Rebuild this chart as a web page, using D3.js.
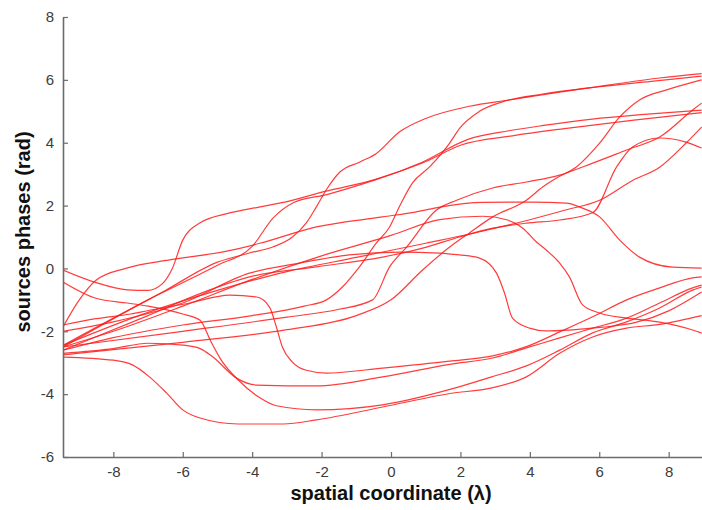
<!DOCTYPE html>
<html>
<head>
<meta charset="utf-8">
<script src="https://cdn.jsdelivr.net/npm/d3@7"></script>
<style>
  body { margin: 0; background: #fff; }
  svg { display: block; font-family: Arial, "Liberation Sans", sans-serif; }
</style>
</head>
<body>
<svg id="chart" width="702" height="510"></svg>
<script>
// phase of each source along the spatial coordinate, [x, phase]
let src01 = [[-9.45,-0.05],[-8.5,-0.45],[-7.6,-0.68],[-7.0,-0.7],[-6.6,-0.5],[-6.3,0.0],[-6.0,0.9],[-5.5,1.45],[-4.7,1.75],[-3.8,1.95],[-3.1,2.1],[-1.9,2.45],[-0.4,2.85],[0.9,3.38],[2.2,4.1],[3.4,4.38],[4.4,4.55],[5.8,4.75],[7.3,4.9],[8.95,5.04]]
let src02 = [[-9.45,-0.43],[-8.5,-0.95],[-7.6,-1.1],[-7,-1.2],[-6,-1.45],[-5.5,-1.65],[-5.2,-2.3],[-4.9,-2.9],[-4.4,-3.55],[-3.8,-4.1],[-3.3,-4.37],[-2.15,-4.5],[-0.24,-4.34],[1.7,-3.85],[2.9,-3.45],[3.9,-3.1],[4.86,-2.6],[5.81,-2.05],[6.79,-1.7],[7.74,-1.26],[8.69,-0.69],[8.95,-0.59]]
let src03 = [[-9.45,-2.82],[-8,-2.92],[-7.45,-3.07],[-6.96,-3.45],[-6.47,-3.96],[-6,-4.5],[-5.5,-4.76],[-4.4,-4.95],[-3.1,-4.95],[-2.15,-4.82],[-0.24,-4.41],[1.7,-3.98],[2.9,-3.8],[3.9,-3.45],[4.86,-2.7],[5.81,-2.18],[6.79,-1.9],[7.74,-1.78],[8.95,-1.5]]
let src04 = [[-9.45,-2.7],[-8,-2.55],[-7,-2.38],[-6,-2.44],[-5.5,-2.55],[-5.13,-2.82],[-4.45,-3.49],[-3.87,-3.71],[-2.15,-3.74],[-0.24,-3.45],[1.69,-3.05],[2.93,-2.85],[3.9,-2.53],[4.86,-2.21],[5.81,-1.9],[6.79,-1.58],[7.74,-1.1],[8.69,-0.62],[8.95,-0.53]]
let src05 = [[-9.45,-1.8],[-8.5,-1.6],[-7.5,-1.45],[-6.96,-1.33],[-5.8,-1.1],[-4.65,-0.85],[-3.87,-0.91],[-3.5,-1.23],[-3.3,-1.87],[-3.13,-2.5],[-2.84,-2.98],[-2.44,-3.24],[-1.86,-3.33],[-0.24,-3.17],[1.69,-2.95],[2.93,-2.78],[3.9,-2.49],[4.86,-2.02],[5.81,-1.54],[6.79,-1.0],[7.74,-0.62],[8.69,-0.3],[8.95,-0.27]]
let src06 = [[-9.45,-2.0],[-8,-1.7],[-6,-1.1],[-4.08,-0.15],[-2.64,0.17],[-1.2,0.43],[0.24,0.52],[1.4,0.49],[1.97,0.43],[2.55,0.33],[3.04,-0.15],[3.27,-0.78],[3.5,-1.58],[3.99,-1.9],[4.48,-1.99],[5.14,-1.96],[6.1,-1.87],[7.08,-1.71],[8,-1.35],[8.95,-0.75]]
let src07 = [[-9.45,-2.5],[-8,-2.0],[-6,-1.2],[-4,-0.35],[-2,0.4],[0,1.05],[1.4,1.55],[2.64,1.66],[3.33,1.55],[3.8,1.28],[4.19,0.84],[4.48,0.58],[4.86,0.17],[5.14,-0.27],[5.52,-1.16],[6.01,-1.42],[6.79,-1.58],[7.74,-1.71],[8.69,-1.96],[8.95,-2.06]]
let src08 = [[-9.45,-2.5],[-8,-1.6],[-6.5,-0.7],[-5,0.2],[-4.08,0.49],[-3.41,0.68],[-2.84,1.0],[-2.44,1.45],[-2.15,1.96],[-1.83,2.56],[-1.48,3.06],[-0.91,3.38],[-0.42,3.66],[0.24,4.34],[1.02,4.78],[2.26,5.16],[3.41,5.36],[4.86,5.61],[6.3,5.84],[7.74,6.06],[8.95,6.2]]
let src09 = [[-9.45,-2.6],[-8,-2.2],[-6,-1.8],[-4,-1.5],[-2.5,-1.2],[-1.86,-1.0],[-1.4,-0.59],[-0.91,0.05],[-0.42,0.81],[-0.04,1.32],[0.24,1.96],[0.62,2.72],[1.11,3.23],[1.69,3.99],[1.97,4.45],[2.55,5.0],[3.21,5.3],[4.37,5.55],[6,5.78],[7.5,5.95],[8.95,6.12]]
let src10 = [[-9.45,-2.5],[-6,-2.0],[-3,-1.55],[-1.5,-1.3],[-0.53,-1.0],[-0.04,0.05],[0.45,0.68],[1.31,1.86],[1.89,2.17],[2.93,2.56],[3.9,2.75],[4.86,2.97],[5.81,3.35],[6.79,3.77],[7.74,4.18],[8.69,5.04],[8.95,5.26]]
let src11 = [[-9.45,-2.75],[-6,-2.35],[-3,-1.95],[-1,-1.5],[0,-1.0],[0.91,-0.05],[1.69,0.68],[2.26,1.13],[2.93,1.64],[3.9,2.17],[4.37,2.59],[4.76,2.87],[5.34,3.23],[6.01,3.99],[6.59,4.82],[7.16,5.36],[7.94,5.68],[8.95,6.0]]
let src12 = [[-9.45,-2.6],[-7,-1.5],[-5.5,-0.8],[-4.08,-0.27],[-2.15,0.05],[-0.24,0.36],[1.02,0.68],[1.97,1.0],[2.93,1.28],[3.9,1.44],[4.86,1.54],[5.81,1.77],[6.5,3.23],[6.96,3.86],[7.74,4.15],[8.5,4.02],[8.95,3.83]]
let src13 = [[-9.45,-1.86],[-8.98,-1.0],[-8.49,-0.37],[-7.62,0.01],[-6.38,0.27],[-4.73,0.55],[-3.78,0.8],[-2.15,1.32],[-0.24,1.64],[0.73,1.8],[1.4,1.95],[2.64,2.1],[4.08,2.11],[5.06,2.08],[5.44,1.95],[6.01,1.64],[6.59,0.9],[7.16,0.36],[8.11,0.04],[8.95,0.01]]
let src14 = [[-9.45,-2.45],[-7,-1.0],[-5,0.1],[-4.0,0.7],[-3.4,1.6],[-2.8,2.1],[-1.85,2.35],[-0.5,2.8],[1,3.4],[2,3.92],[3.5,4.22],[5,4.45],[7,4.72],[8.95,4.96]]
let src15 = [[-9.45,-2.45],[-7,-1.4],[-5,-0.7],[-3,-0.1],[-1,0.35],[1,0.8],[2.5,1.15],[4,1.55],[5,1.85],[6.01,2.17],[6.96,2.8],[7.74,3.22],[8.5,3.99],[8.95,4.5]]

let sources = [src01, src02, src03, src04, src05, src06, src07, src08, src09, src10, src11, src12, src13, src14, src15]

let xTicks = [-8, -6, -4, -2, 0, 2, 4, 6, 8]
let yTicks = [-6, -4, -2, 0, 2, 4, 6, 8]

let svg = d3.select('#chart')

let x = d3.scaleLinear().domain([-9.45, 9.45]).range([63, 719])
let y = d3.scaleLinear().domain([-6, 8]).range([457, 17])

svg.append('clipPath').attr('id', 'plotclip')
    .append('rect')
    .attr('x', 63).attr('y', 17)
    .attr('width', 656).attr('height', 440)

let line = d3.line()
    .x(d => x(d[0]))
    .y(d => y(d[1]))
    .curve(d3.curveMonotoneX)

svg.append('g')
    .attr('clip-path', 'url(#plotclip)')
    .selectAll('path')
    .data(sources)
    .join('path')
    .attr('d', line)
    .attr('fill', 'none')
    .attr('stroke', '#ff1a1a')
    .attr('stroke-opacity', 0.85)
    .attr('stroke-width', 1.2)

// axes, ticks pointing into the plot, plain hyphen for the minus sign
let plain = d => String(d)

svg.append('g')
    .attr('transform', 'translate(0,457)')
    .call(d3.axisBottom(x).tickValues(xTicks).tickFormat(plain).tickSizeInner(-5).tickSizeOuter(0).tickPadding(9))

svg.append('g')
    .attr('transform', 'translate(63,0)')
    .call(d3.axisLeft(y).tickValues(yTicks).tickFormat(plain).tickSizeInner(-5).tickSizeOuter(0).tickPadding(9))

svg.selectAll('.domain').attr('stroke', '#6b6b6b').attr('stroke-width', 1.6)
svg.selectAll('.tick line').attr('stroke', '#6b6b6b').attr('stroke-width', 1.2)
svg.selectAll('.tick text')
    .attr('fill', '#3c3c3c')
    .style('font-size', '15px')
    .style('font-family', 'Arial, "Liberation Sans", sans-serif')

svg.append('text')
    .attr('x', 391)
    .attr('y', 500)
    .attr('text-anchor', 'middle')
    .attr('font-size', '20px')
    .attr('font-weight', 'bold')
    .attr('fill', '#111')
    .text('spatial coordinate (λ)')

svg.append('text')
    .attr('transform', 'translate(30,232) rotate(-90)')
    .attr('text-anchor', 'middle')
    .attr('font-size', '20px')
    .attr('font-weight', 'bold')
    .attr('fill', '#111')
    .text('sources phases (rad)')
</script>
</body>
</html>
